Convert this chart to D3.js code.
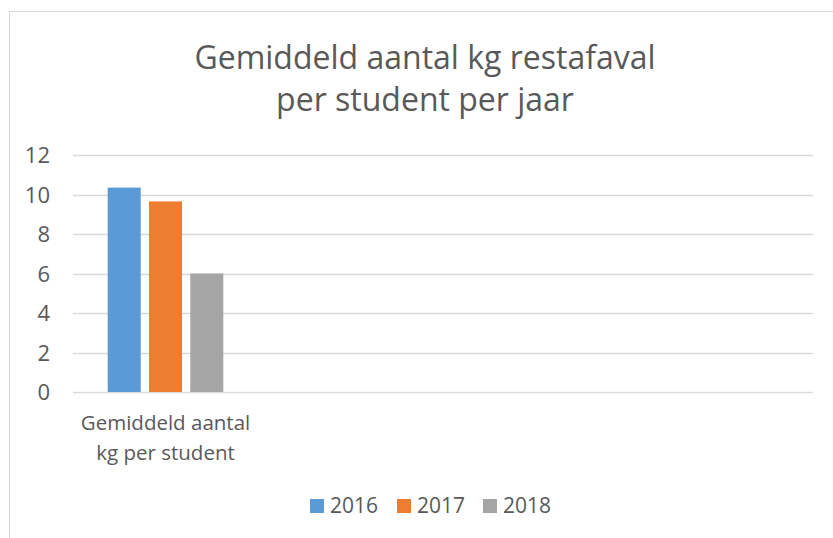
<!DOCTYPE html>
<html>
<head>
<meta charset="utf-8">
<script src="https://cdn.jsdelivr.net/npm/d3@7"></script>
<style>
  body { margin: 0; background: #fff; }
  text { font-family: "Open Sans", sans-serif; fill: #595959; }
</style>
</head>
<body>
<div id="chart"></div>
<script>
const categories = ["Gemiddeld aantal kg per student", "", "", ""];
const series = ["2016", "2017", "2018"];
const values2016 = [10.35, null, null, null];
const values2017 = [9.65, null, null, null];
const values2018 = [6.0, null, null, null];
const yTicks = [0, 2, 4, 6, 8, 10, 12];
const colors = ["#5b9bd5", "#ed7d31", "#a5a5a5"];

const width = 833;
const height = 538;
const margin = { top: 155, right: 20, bottom: 146, left: 73 };

const svg = d3.select("#chart")
  .append("svg")
  .attr("width", width)
  .attr("height", height);

// Kader van de grafiek
svg.append("rect")
  .attr("x", 9.5)
  .attr("y", 11.5)
  .attr("width", 840)
  .attr("height", 540)
  .attr("fill", "none")
  .attr("stroke", "#d9d9d9");

const x0 = d3.scaleBand()
  .domain(d3.range(categories.length))
  .range([margin.left, width - margin.right])
  .padding(0);

const groupW = x0.bandwidth() * 0.625;
const x1 = d3.scaleBand()
  .domain(series)
  .range([(x0.bandwidth() - groupW) / 2, (x0.bandwidth() + groupW) / 2])
  .paddingInner(0.2);

const y = d3.scaleLinear()
  .domain([0, 12])
  .range([height - margin.bottom, margin.top]);

// Rasterlijnen
svg.append("g")
  .selectAll("line")
  .data(yTicks)
  .join("line")
  .attr("x1", margin.left)
  .attr("x2", width - margin.right)
  .attr("y1", d => Math.round(y(d)) + 0.5)
  .attr("y2", d => Math.round(y(d)) + 0.5)
  .attr("stroke", "#d9d9d9")
  .attr("stroke-width", 1.3);

// Y-as labels
svg.append("g")
  .attr("transform", `translate(${margin.left - 23},0)`)
  .call(d3.axisLeft(y).tickValues(yTicks).tickSize(0).tickPadding(0))
  .call(g => g.select(".domain").remove())
  .attr("font-size", 22)
  .attr("font-family", "Open Sans")
  .selectAll("text")
  .style("font-size", "22px")
  .attr("fill", "#595959")
  .attr("dy", "0.35em");

// Balken
const table = categories.map((c, i) => ({
  i, values: [values2016[i], values2017[i], values2018[i]]
}));

svg.append("g")
  .selectAll("g")
  .data(table)
  .join("g")
  .attr("transform", d => `translate(${x0(d.i)},0)`)
  .selectAll("rect")
  .data(d => d.values.map((v, k) => ({ key: series[k], v, k })).filter(e => e.v != null))
  .join("rect")
  .attr("x", e => x1(e.key))
  .attr("y", e => y(e.v))
  .attr("width", x1.bandwidth())
  .attr("height", e => y(0) - y(e.v))
  .attr("fill", e => colors[e.k]);

// Categorie labels
const catLines = [["Gemiddeld aantal", "kg per student"], [], [], []];
categories.forEach((c, i) => {
  catLines[i].forEach((line, j) => {
    svg.append("text")
      .attr("x", x0(i) + x0.bandwidth() / 2)
      .attr("y", 430 + j * 30)
      .attr("text-anchor", "middle")
      .style("font-size", "20.5px")
      .text(line);
  });
});

// Titel
const titleLines = ["Gemiddeld aantal kg restafaval", "per student per jaar"];
titleLines.forEach((t, j) => {
  svg.append("text")
    .attr("x", 425)
    .attr("y", 69 + j * 42)
    .attr("text-anchor", "middle")
    .style("font-size", "32px")
    .text(t);
});

// Legenda
const legendX = [310, 397, 483];
const legend = svg.append("g");
series.forEach((s, k) => {
  legend.append("rect")
    .attr("x", legendX[k])
    .attr("y", 499)
    .attr("width", 14)
    .attr("height", 14)
    .attr("fill", colors[k]);
  legend.append("text")
    .attr("x", legendX[k] + 20)
    .attr("y", 506)
    .attr("dy", "0.35em")
    .style("font-size", "21px")
    .text(s);
});
</script>
</body>
</html>
